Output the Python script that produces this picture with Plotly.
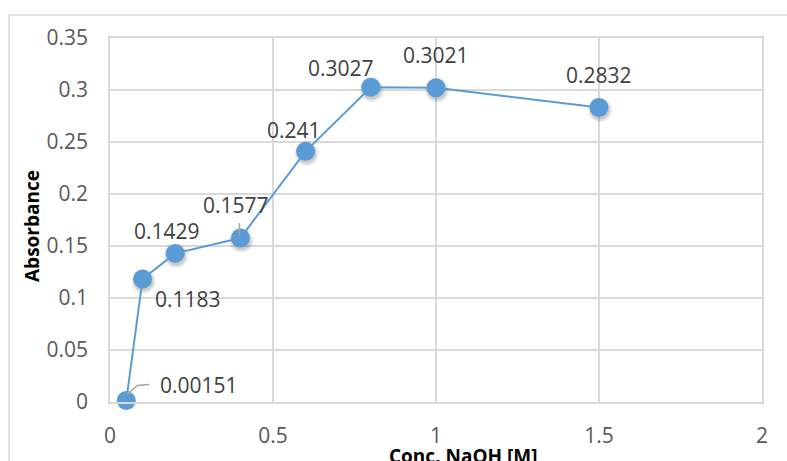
import plotly.graph_objects as go

# Absorbance measured against NaOH concentration
conc_naoh = [0.05, 0.1, 0.2, 0.4, 0.6, 0.8, 1.0, 1.5]
absorbance = [0.00151, 0.1183, 0.1429, 0.1577, 0.241, 0.3027, 0.3021, 0.2832]
value_labels = ["0.00151", "0.1183", "0.1429", "0.1577", "0.241", "0.3027", "0.3021", "0.2832"]

x_ticks = [0, 0.5, 1, 1.5, 2]
x_tick_text = ["0", "0.5", "1", "1.5", "2"]
y_ticks = [0, 0.05, 0.1, 0.15, 0.2, 0.25, 0.3, 0.35]
y_tick_text = ["0", "0.05", "0.1", "0.15", "0.2", "0.25", "0.3", "0.35"]

# pixel offsets (dx, dy, anchor) of each data label relative to its point
label_offsets = [(32, 15, "left"), (45, -20, "center"), (-8, 22, "center"),
                 (-4, 33, "center"), (-12, 21, "center"), (-30, 19, "center"),
                 (0, 33, "center"), (0, 32, "center")]

W, H = 787, 461
ML, MR, MT, MB = 110, 25, 38, 59
PW, PH = W - ML - MR, H - MT - MB
X_RANGE = [0, 2]
Y_RANGE = [0, 0.35]

BLUE = "#5B9BD5"
GRID = "#D9D9D9"
FONT = "Open Sans, Liberation Sans, sans-serif"

fig = go.Figure()

# soft drop shadow under the markers (stacked translucent discs, shifted down-right)
dx_data = 1.0 * (X_RANGE[1] - X_RANGE[0]) / PW
dy_data = 2.5 * (Y_RANGE[1] - Y_RANGE[0]) / PH
for size, alpha in [(25, 0.05), (22, 0.07), (19, 0.09)]:
    fig.add_trace(go.Scatter(
        x=[v + dx_data for v in conc_naoh],
        y=[v - dy_data for v in absorbance],
        mode="markers",
        marker=dict(size=size, color="rgba(0,0,0,%s)" % alpha, line=dict(width=0)),
        hoverinfo="skip", showlegend=False, cliponaxis=False,
    ))
fig.add_trace(go.Scatter(
    x=conc_naoh, y=absorbance,
    mode="lines+markers",
    line=dict(color=BLUE, width=2),
    marker=dict(size=19, color=BLUE, line=dict(width=0)),
    showlegend=False, cliponaxis=False,
))

annotations = []
for xv, yv, txt, (ox, oy, anc) in zip(conc_naoh, absorbance, value_labels, label_offsets):
    annotations.append(dict(
        x=xv, y=yv, xref="x", yref="y", text=txt, showarrow=False,
        xanchor=anc, yanchor="middle", xshift=ox, yshift=oy,
        font=dict(family=FONT, size=21, color="#404040"),
    ))

# axis titles
annotations.append(dict(
    x=0.5, y=0, xref="paper", yref="paper", text="<b>Conc. NaOH [M]</b>",
    showarrow=False, xanchor="center", yanchor="top", xshift=27, yshift=-39,
    font=dict(family=FONT, size=19, color="#000000"),
))
annotations.append(dict(
    x=0, y=0.5, xref="paper", yref="paper", text="<b>Absorbance</b>",
    showarrow=False, xanchor="center", yanchor="middle", textangle=-90,
    xshift=-78, yshift=-6,
    font=dict(family=FONT, size=19, color="#000000"),
))

shapes = [
    # outer chart frame
    dict(type="path", xref="paper", yref="paper",
         path="M {x0},{y1} L {x0},{y0} L {x2},{y0}".format(
             x0=(9 - ML) / PW, y0=(H - MB - 15) / PH,
             y1=(H - MB - 470) / PH, x2=(800 - ML) / PW),
         line=dict(color=GRID, width=1.5), layer="below"),
    # leader lines for labels that sit away from their points
    dict(type="path", xref="x", yref="y", xsizemode="pixel", ysizemode="pixel",
         xanchor=conc_naoh[0], yanchor=absorbance[0],
         path="M 1,6 L 11,15 L 23,16",
         line=dict(color="#A6A6A6", width=1.5)),
    dict(type="path", xref="x", yref="y", xsizemode="pixel", ysizemode="pixel",
         xanchor=conc_naoh[3], yanchor=absorbance[3],
         path="M -1,2 L -1,15",
         line=dict(color="#A6A6A6", width=1.5)),
]

axis_common = dict(
    showgrid=True, gridcolor=GRID, gridwidth=1.5,
    zeroline=False, showline=True, linecolor=GRID, linewidth=1.5, mirror=True,
    ticks="outside", tickcolor="rgba(0,0,0,0)",
    tickfont=dict(family=FONT, size=21, color="#595959"),
    fixedrange=True,
)

fig.update_layout(
    width=W, height=H,
    margin=dict(l=ML, r=MR, t=MT, b=MB, pad=0),
    paper_bgcolor="white", plot_bgcolor="white",
    xaxis=dict(range=X_RANGE, tickvals=x_ticks, ticktext=x_tick_text,
               ticklen=14, **axis_common),
    yaxis=dict(range=Y_RANGE, tickvals=y_ticks, ticktext=y_tick_text,
               ticklen=16, **axis_common),
    annotations=annotations,
    shapes=shapes,
)

fig.write_html("out.html")
